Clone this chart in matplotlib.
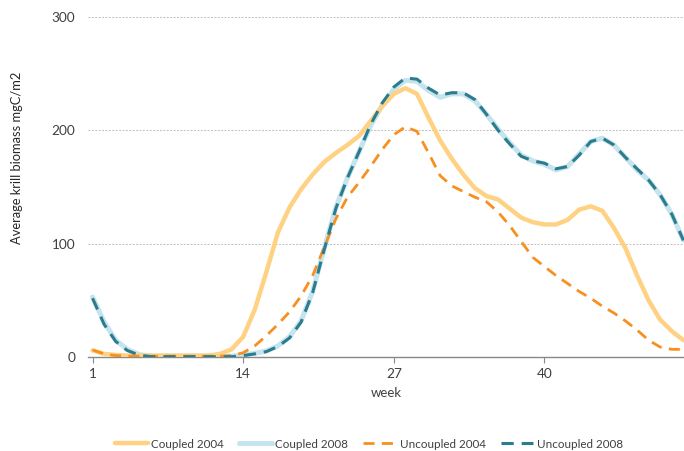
import numpy as np
import matplotlib
matplotlib.use("Agg")
import matplotlib.pyplot as plt

weeks = np.arange(1, 53)

coupled_2004 = [6, 3, 2, 1.5, 1.5, 1.5, 1.5, 1.5, 1.5, 1.5, 1.5, 3, 7,
                18, 42, 75, 110, 132, 148, 161, 172, 180, 187, 195, 208, 221,
                232, 237, 232, 211, 191, 175, 161, 149, 142, 139, 131, 123, 119,
                117, 117, 121, 130, 133, 129, 114, 96, 72, 50, 33, 23, 15]

coupled_2008 = [53, 31, 15, 7, 2.5, 1, 1, 1, 1, 1, 1, 1, 1,
                2, 3.5, 5.5, 10, 18, 32, 58, 96, 132, 158, 181, 204, 222,
                236, 244, 243, 235, 229, 232, 232, 226, 214, 201, 189, 178, 173,
                170, 165, 168, 179, 190, 193, 187, 176, 165, 156, 143, 126, 103]

uncoupled_2004 = [6.5, 3, 1.5, 1, 1, 1, 1, 1, 1, 1, 1, 1, 1.5,
                  4, 10, 19, 29, 40, 54, 72, 97, 122, 141, 154, 168, 183,
                  196, 203, 199, 180, 160, 151, 146, 141, 137, 128, 116, 102, 88,
                  80, 72, 65, 58, 52, 45, 39, 32, 24, 15, 9, 7, 7]

uncoupled_2008 = [52, 29, 14, 6, 2, 0.5, 0.5, 0.5, 0.5, 0.5, 0.5, 0.5, 0.5,
                  1.5, 3, 5, 9.5, 17, 31, 57, 95, 131, 158, 181, 205, 224,
                  238, 246, 245, 237, 231, 233, 233, 227, 214, 200, 188, 177, 173,
                  171, 166, 168, 178, 190, 193, 187, 176, 166, 156, 143, 126, 103]

x_ticks = [1, 14, 27, 40]
y_ticks = [0, 100, 200, 300]

plt.rcParams['font.family'] = ['Lato', 'DejaVu Sans']

fig = plt.figure(figsize=(6.84, 4.51), dpi=100)
ax = fig.add_axes([0.1287, 0.2078, 0.8713, 0.7552])

ax.plot(weeks, coupled_2004, color='#FFD283', lw=3.2, label='Coupled 2004',
        solid_capstyle='round', zorder=3)
ax.plot(weeks, coupled_2008, color='#C5E4ED', lw=3.6, label='Coupled 2008',
        solid_capstyle='round', zorder=2)
ax.plot(weeks, uncoupled_2004, color='#F7901E', lw=2.0, label='Uncoupled 2004',
        dashes=(4, 2.6), zorder=4)
ax.plot(weeks, uncoupled_2008, color='#2A7C8E', lw=2.2, label='Uncoupled 2008',
        dashes=(4, 2.6), zorder=5)

ax.set_xlim(0.61, 52.05)
ax.set_ylim(0, 300)
ax.set_xticks(x_ticks)
ax.set_yticks(y_ticks)

for s in ['top', 'right', 'left']:
    ax.spines[s].set_visible(False)
ax.spines['bottom'].set_color('#898989')
ax.spines['bottom'].set_linewidth(1.0)

ax.yaxis.grid(True, color='#BFBFBF', linestyle=(0, (2, 1.5)), linewidth=0.7)
ax.set_axisbelow(True)
ax.tick_params(axis='y', length=0, pad=9, labelsize=9.8, labelcolor='#404040')
ax.tick_params(axis='x', length=4, color='#898989', pad=4, labelsize=9.8,
               labelcolor='#404040')

ax.set_xlabel('week', fontsize=9.5, color='#404040', labelpad=5)
ax.set_ylabel('Average krill biomass mgC/m2', fontsize=9.3, color='#262626')
ax.yaxis.set_label_coords(-0.109, 0.585)

ax.legend(loc='center', bbox_to_anchor=(369 / 684, 1 - 444 / 451),
          bbox_transform=fig.transFigure, ncol=4, frameon=False, fontsize=8.4,
          handlelength=2.8, columnspacing=1.3, handletextpad=0.3,
          labelcolor='#404040')

fig.savefig('out.png', dpi=100, facecolor='white')
